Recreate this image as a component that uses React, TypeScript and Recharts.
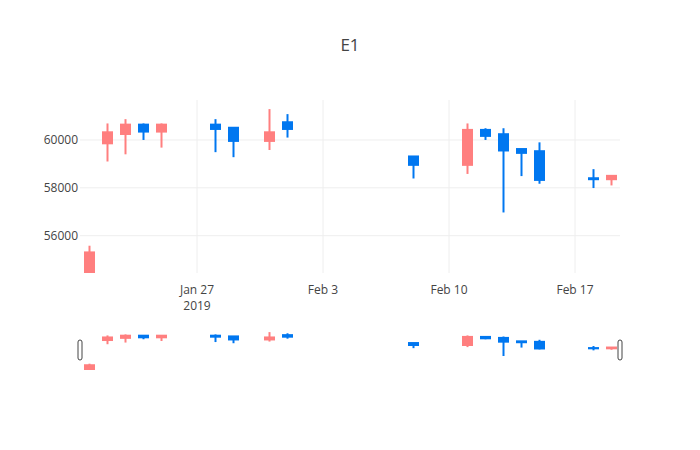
import { ComposedChart, Bar, XAxis, YAxis, CartesianGrid, ReferenceDot } from 'recharts'

const dates = [
  '2019-01-21', '2019-01-22', '2019-01-23', '2019-01-24', '2019-01-25',
  '2019-01-28', '2019-01-29', '2019-01-31', '2019-02-01', '2019-02-08',
  '2019-02-11', '2019-02-12', '2019-02-13', '2019-02-14', '2019-02-15',
  '2019-02-18', '2019-02-19',
]
const open = [54450, 59860, 60250, 60640, 60350, 60640, 60510, 59960, 60740, 59310, 58960, 60420, 60240, 59620, 59530, 58400, 58360]
const high = [55580, 60690, 60870, 60690, 60690, 60870, 60510, 61290, 61080, 59310, 60690, 60490, 60490, 59620, 59900, 58780, 58500]
const low = [54450, 59100, 59400, 60000, 59680, 59490, 59280, 59580, 60100, 58390, 58580, 60000, 56970, 58490, 58170, 57990, 58100]
const close = [55300, 60320, 60640, 60350, 60640, 60460, 59960, 60320, 60460, 58960, 60420, 60170, 59560, 59460, 58330, 58360, 58500]

// x axis works in "day of 2019" numbers (Jan 1 = 1)
const tickDays = [27, 34, 41, 48]
const tickLabels = ['Jan 27', 'Feb 3', 'Feb 10', 'Feb 17']
const yearLabels = ['2019', '', '', '']
const yTicks = [56000, 58000, 60000]

const xDomain: [number, number] = [20.5, 50.5]
const yDomain: [number, number] = [54440, 61670]

const UP = '#ff7f7f'
const DOWN = '#0077f0'
const FONT = '"Open Sans", verdana, arial, sans-serif'

const dayOf = (d: string) => (Date.parse(d) - Date.UTC(2019, 0, 0)) / 86400000

const data = dates.map((d, i) => ({
  day: dayOf(d),
  open: open[i],
  high: high[i],
  low: low[i],
  close: close[i],
  range: [low[i], high[i]],
}))

function Candle(props: any) {
  const { x, y, width, height, payload } = props
  if (x == null || y == null) return null
  const top = height < 0 ? y + height : y
  const h = Math.abs(height)
  const span = payload.high - payload.low || 1
  const toY = (v: number) => top + ((payload.high - v) / span) * h
  const color = payload.close >= payload.open ? UP : DOWN
  const cx = x + width / 2
  const bTop = toY(Math.max(payload.open, payload.close))
  const bBot = toY(Math.min(payload.open, payload.close))
  return (
    <g>
      <line x1={cx} x2={cx} y1={top} y2={top + h} stroke={color} strokeWidth={2} />
      <rect x={x} y={bTop} width={width} height={Math.max(bBot - bTop, 0)} fill={color} stroke={color} strokeWidth={2} />
    </g>
  )
}

function DateTick(props: any) {
  const { x, y, payload } = props
  const i = tickDays.indexOf(payload.value)
  return (
    <text x={x} y={y} textAnchor="middle" fill="#444" fontSize={12} fontFamily={FONT}>
      <tspan x={x} dy={21}>{tickLabels[i]}</tspan>
      {yearLabels[i] ? <tspan x={x} dy={16}>{yearLabels[i]}</tspan> : null}
    </text>
  )
}

function Grip(props: any) {
  const { cx, cy } = props
  return <rect x={cx - 2} y={cy - 10} width={4} height={20} rx={2} fill="#fff" stroke="#444" strokeWidth={1} />
}

export default function App() {
  const midY = (yDomain[0] + yDomain[1]) / 2
  return (
    <div style={{ position: 'absolute', left: 0, top: 0, width: 700, height: 450, background: '#fff', fontFamily: FONT }}>
      <div style={{ position: 'absolute', top: 33, left: 0, width: 700, textAlign: 'center', fontSize: 17, color: '#444' }}>E1</div>
      <div style={{ position: 'absolute', top: 0, left: 0 }}>
        <ComposedChart width={700} height={330} data={data} margin={{ top: 100, right: 80, bottom: 0, left: 0 }}>
          <CartesianGrid stroke="#eee" syncWithTicks />
          <XAxis
            dataKey="day"
            type="number"
            domain={xDomain}
            ticks={tickDays}
            allowDataOverflow
            axisLine={false}
            tickLine={false}
            tickSize={0}
            tickMargin={0}
            height={57}
            tick={<DateTick />}
          />
          <YAxis
            type="number"
            domain={yDomain}
            ticks={yTicks}
            allowDataOverflow
            axisLine={false}
            tickLine={false}
            tickSize={0}
            tickMargin={2}
            width={80}
            tick={{ fontSize: 12, fill: '#444', fontFamily: FONT }}
          />
          <Bar dataKey="range" barSize={9} shape={<Candle />} isAnimationActive={false} />
        </ComposedChart>
      </div>
      <div style={{ position: 'absolute', top: 330, left: 0 }}>
        <ComposedChart width={700} height={40} data={data} margin={{ top: 0, right: 80, bottom: 0, left: 80 }}>
          <XAxis dataKey="day" type="number" domain={xDomain} allowDataOverflow hide />
          <YAxis type="number" domain={yDomain} allowDataOverflow hide />
          <Bar dataKey="range" barSize={9} shape={<Candle />} isAnimationActive={false} />
          <ReferenceDot x={xDomain[0]} y={midY} ifOverflow="visible" shape={<Grip />} />
          <ReferenceDot x={xDomain[1]} y={midY} ifOverflow="visible" shape={<Grip />} />
        </ComposedChart>
      </div>
    </div>
  )
}
